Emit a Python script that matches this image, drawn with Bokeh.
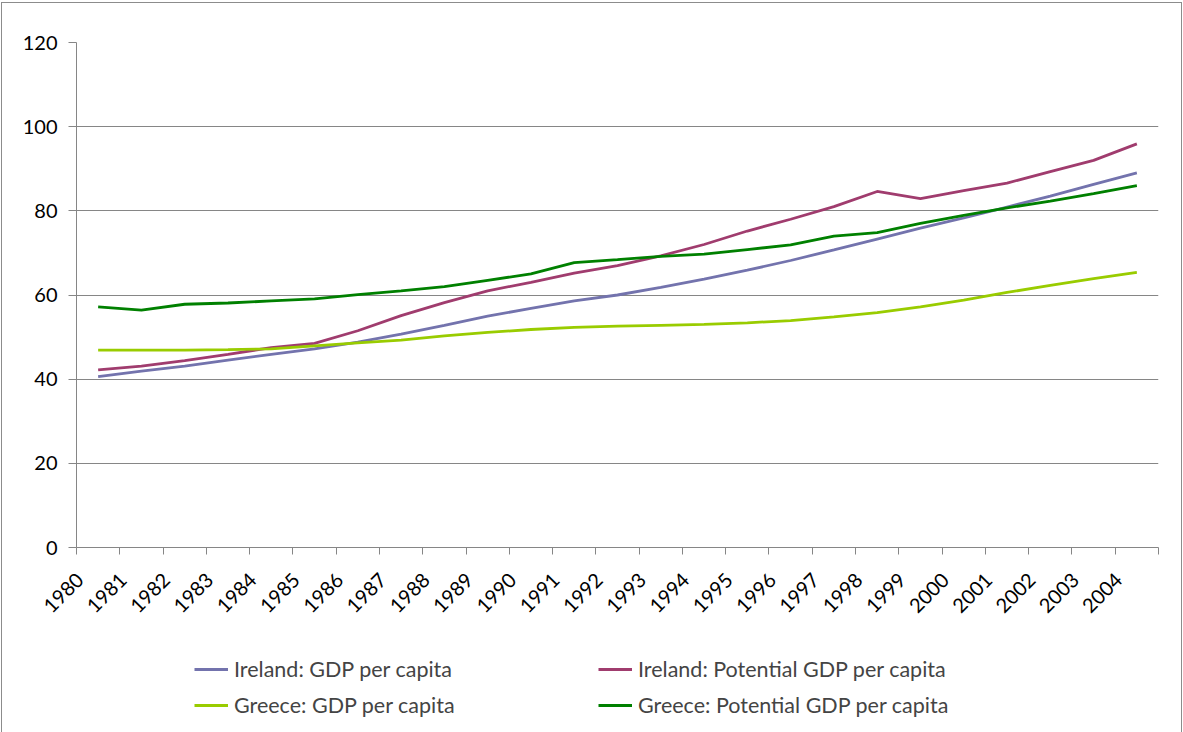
import math
from bokeh.plotting import figure
from bokeh.layouts import column
from bokeh.models import FixedTicker, Range1d, Legend, LegendItem
from bokeh.embed import file_html
from bokeh.resources import INLINE

years = list(range(1980, 2005))
ireland_gdp = [40.6, 41.9, 43.1, 44.5, 45.9, 47.2, 48.8, 50.7, 52.8, 55.0, 56.8, 58.6, 60.0,
               61.8, 63.8, 65.9, 68.2, 70.7, 73.3, 75.9, 78.3, 80.9, 83.5, 86.3, 89.0]
ireland_pot = [42.2, 43.1, 44.4, 45.9, 47.5, 48.5, 51.5, 55.1, 58.2, 61.0, 63.0, 65.2, 67.0,
               69.3, 72.0, 75.2, 78.0, 81.0, 84.6, 82.9, 84.8, 86.6, 89.3, 92.0, 95.9]
greece_gdp = [46.9, 46.9, 46.9, 47.0, 47.2, 47.9, 48.6, 49.3, 50.3, 51.1, 51.8, 52.3, 52.6,
              52.8, 53.0, 53.4, 53.9, 54.8, 55.8, 57.2, 58.8, 60.6, 62.3, 63.9, 65.4]
greece_pot = [57.2, 56.4, 57.8, 58.1, 58.6, 59.1, 60.1, 61.0, 62.0, 63.5, 65.0, 67.7, 68.4,
              69.2, 69.7, 70.8, 71.9, 74.0, 74.8, 77.0, 78.9, 80.7, 82.3, 84.1, 86.0]
y_ticks = [0, 20, 40, 60, 80, 100, 120]

series = [
    ("Ireland: GDP per capita", ireland_gdp, "#7373AD"),
    ("Ireland: Potential GDP per capita", ireland_pot, "#A03C6E"),
    ("Greece: GDP per capita", greece_gdp, "#99CC00"),
    ("Greece: Potential GDP per capita", greece_pot, "#008000"),
]

FONT = "Lato"
GRAY = "#868686"

p = figure(width=1179, height=640, output_backend="svg", toolbar_location=None,
           x_range=Range1d(years[0] - 0.5, years[-1] + 0.5), y_range=Range1d(0, 120),
           min_border_left=74, min_border_right=23, min_border_top=39, min_border_bottom=96)
p.outline_line_color = None
p.background_fill_color = "white"

for name, vals, col in series:
    p.line(years, vals, line_color=col, line_width=2.8)

# axes
LOFF = 0.42
p.xaxis.ticker = FixedTicker(ticks=[y - LOFF for y in years],
                             minor_ticks=[y - 0.5 for y in years] + [years[-1] + 0.5])
p.xaxis.major_label_overrides = {y - LOFF: str(y) for y in years}
p.xaxis.major_label_orientation = math.pi / 4
p.xaxis.major_tick_out = 0
p.xaxis.major_tick_in = 0
p.xaxis.minor_tick_out = 7
p.xaxis.minor_tick_in = 0
p.xaxis.minor_tick_line_color = GRAY
p.xaxis.axis_line_color = GRAY
p.xaxis.major_label_standoff = 22

p.yaxis.ticker = FixedTicker(ticks=y_ticks)
p.yaxis.major_tick_out = 8
p.yaxis.major_tick_in = 0
p.yaxis.minor_tick_line_color = None
p.yaxis.major_tick_line_color = GRAY
p.yaxis.axis_line_color = GRAY
p.yaxis.major_label_standoff = 11

for ax in (p.xaxis, p.yaxis):
    ax.major_label_text_font = FONT
    ax.major_label_text_font_size = "20px"
    ax.major_label_text_color = "black"

p.xgrid.grid_line_color = None
p.ygrid.ticker = FixedTicker(ticks=y_ticks)
p.ygrid.grid_line_color = GRAY
p.ygrid.grid_line_width = 1

# legend panel (proxy lines drawn outside its visible range)
lg = figure(width=1179, height=89, output_backend="svg", toolbar_location=None,
            x_axis_type=None, y_axis_type=None, x_range=Range1d(0, 1), y_range=Range1d(0, 1),
            min_border_left=0, min_border_right=0, min_border_top=0, min_border_bottom=0)
lg.outline_line_color = None
lg.xgrid.grid_line_color = None
lg.ygrid.grid_line_color = None
proxies = {}
for name, vals, col in series:
    proxies[name] = lg.line(years, vals, line_color=col, line_width=2.8)

order = [series[0][0], series[2][0], series[1][0], series[3][0]]
items = [LegendItem(label=n, renderers=[proxies[n]]) for n in order]

legend = Legend(items=items, ncols=2, location=(118, 14), margin=0,
                glyph_width=34, glyph_height=26, label_standoff=6, label_width=354,
                label_height=26, spacing=10, padding=0,
                label_text_font=FONT, label_text_font_size="21.5px",
                border_line_alpha=0, background_fill_alpha=0)
lg.add_layout(legend, "center")

layout = column(p, lg, spacing=0)
layout.styles = {"border": "1px solid #8c8c8c", "border-bottom": "none",
                 "margin-left": "1px", "margin-top": "2px"}

open("out.html", "w").write(file_html(layout, INLINE))
